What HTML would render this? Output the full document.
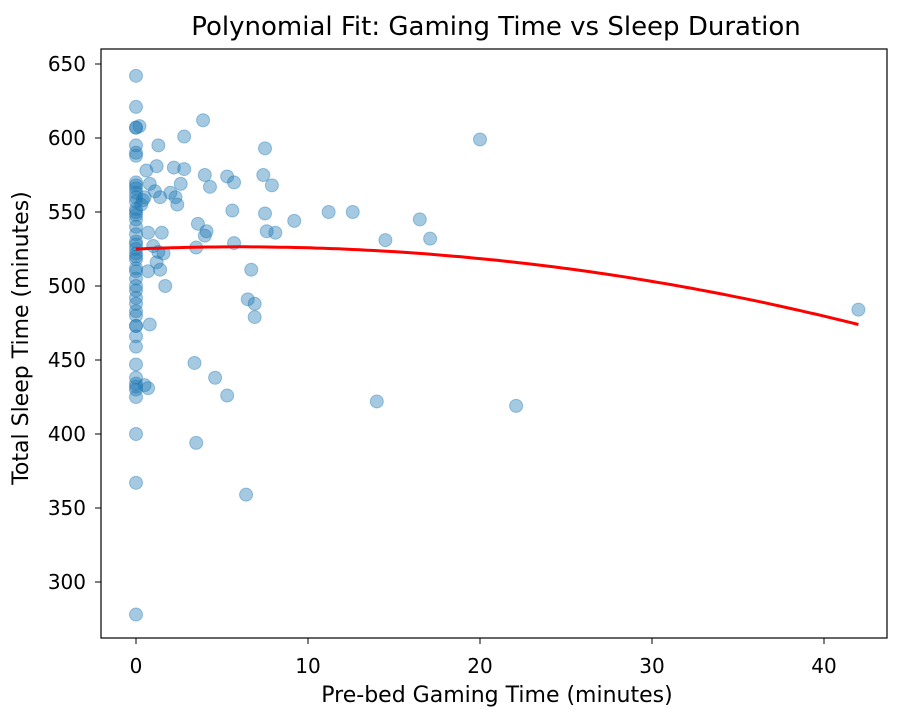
<!DOCTYPE html>
<html><head><meta charset="utf-8"><style>
body{margin:0;background:#fff;}
svg{display:block;font-family:"DejaVu Sans","Liberation Sans",sans-serif;}
</style></head><body>
<svg id="chart" width="903" height="716">
<text x="496" y="35" text-anchor="middle" font-size="26" fill="#000">Polynomial Fit: Gaming Time vs Sleep Duration</text>
<text x="497" y="702" text-anchor="middle" font-size="22" fill="#000">Pre-bed Gaming Time (minutes)</text>
<text transform="translate(28,338) rotate(-90)" text-anchor="middle" font-size="22" fill="#000">Total Sleep Time (minutes)</text>
<g id="ticks"></g>
<g id="points"></g>
<path id="fit" fill="none" stroke="#ff0000" stroke-width="3"></path>
<rect x="101" y="49" width="786" height="589" fill="none" stroke="#000" stroke-width="1.2"></rect>
</svg>
<script>
const gamingX = [0,0,0,0,0,0,0,0,0,0,0,0,0,0,0,0,0,0,0,0,0,0,0,0,0,0,0,0,0,0,0,0,0,0,0,0,0,0,0,0,0,0,0,0,0,0,0,
0.2,0.3,0.4,0.5,0.6,0.5,0.7,0.7,0.8,0.8,0.7,1.0,1.2,1.1,1.2,1.3,1.4,1.4,1.5,1.6,1.7,1.3,2.0,2.2,2.3,2.4,2.6,2.8,2.8,3.4,3.5,3.5,3.6,3.9,4.0,4.0,4.1,4.3,4.6,5.3,5.3,5.6,5.7,5.7,6.4,6.5,6.7,6.9,6.9,7.4,7.5,7.5,7.6,7.9,8.1,9.2,11.2,12.6,14.0,14.5,16.5,17.1,20.0,22.1,42];
const sleepY = [642,621,607,607,595,590,588,570,568,566,563,560,557,552,550,548,545,540,535,530,528,525,522,520,518,512,510,505,500,497,492,488,483,480,473,473,466,459,447,438,434,432,430,425,400,367,278,
608,555,558,560,578,433,431,510,569,474,536,527,516,564,581,595,560,511,536,522,500,523,563,580,560,555,569,579,601,448,394,526,542,612,575,534,537,567,438,574,426,551,529,570,359,491,511,488,479,575,593,549,537,568,536,544,550,550,422,531,545,532,599,419,484];
const xTicks = [0,10,20,30,40];
const yTicks = [300,350,400,450,500,550,600,650];
const fitCoef = [525, 0.486, -0.0405];
const fitRange = [0, 42];

const NS="http://www.w3.org/2000/svg";
const xs = v => 136 + v*17.2;
const ys = v => 64 + (650-v)*1.48;
const tg=document.getElementById('ticks');
xTicks.forEach(t=>{
  const l=document.createElementNS(NS,'line');
  l.setAttribute('x1',xs(t));l.setAttribute('x2',xs(t));l.setAttribute('y1',638);l.setAttribute('y2',644);l.setAttribute('stroke','#000');
  
  
  tg.appendChild(l);
  const tx=document.createElementNS(NS,'text');
  tx.setAttribute('x',xs(t));tx.setAttribute('y',673);tx.setAttribute('text-anchor','middle');tx.setAttribute('font-size','20');
  tx.textContent=t;
  
  
  tg.appendChild(tx);
});
yTicks.forEach(t=>{
  const l=document.createElementNS(NS,'line');
  l.setAttribute('x1',95);l.setAttribute('x2',101);l.setAttribute('y1',ys(t));l.setAttribute('y2',ys(t));l.setAttribute('stroke','#000');
  
  
  tg.appendChild(l);
  const tx=document.createElementNS(NS,'text');
  tx.setAttribute('x',86);tx.setAttribute('y',ys(t)+7);tx.setAttribute('text-anchor','end');tx.setAttribute('font-size','20');
  tx.textContent=t;
  
  
  tg.appendChild(tx);
});
const pg=document.getElementById('points');
gamingX.forEach((x,i)=>{
  const c=document.createElementNS(NS,'circle');
  c.setAttribute('cx',xs(x));c.setAttribute('cy',ys(sleepY[i]));c.setAttribute('r',6.5);
  c.setAttribute('fill','#1f77b4');c.setAttribute('fill-opacity','0.4');
  c.setAttribute('stroke','#1f77b4');c.setAttribute('stroke-opacity','0.4');
  
  
  pg.appendChild(c);
});
let d='';
for(let k=0;k<=100;k++){
  const x=fitRange[0]+(fitRange[1]-fitRange[0])*k/100;
  const y=fitCoef[0]+fitCoef[1]*x+fitCoef[2]*x*x;
  d+=(k?'L':'M')+xs(x).toFixed(1)+','+ys(y).toFixed(1);
}
document.getElementById('fit').setAttribute('d',d);
</script>
</body></html>
